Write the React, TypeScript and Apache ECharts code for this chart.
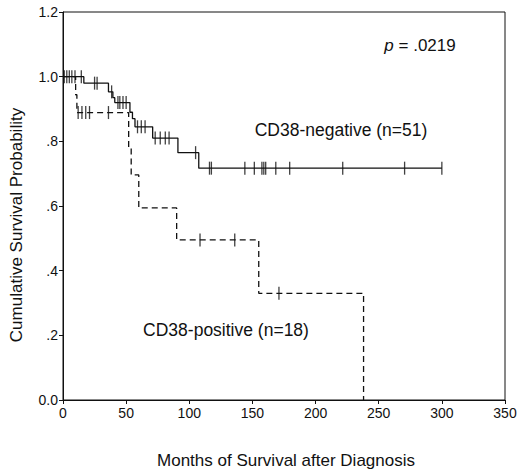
import { useEffect, useRef } from 'react';
import * as echarts from 'echarts';

// Kaplan-Meier steps: [months, survival]
const negativeSteps: [number, number][] = [
  [0, 1.0], [16.5, 0.98], [36, 0.953], [39.5, 0.935], [41, 0.92], [53, 0.89],
  [55, 0.87], [57, 0.845], [71, 0.81], [91, 0.765], [107.5, 0.717], [300, 0.717],
];
const positiveSteps: [number, number][] = [
  [0, 1.0], [10, 0.944], [11, 0.889], [52, 0.78], [54, 0.696], [60, 0.594],
  [90, 0.495], [155, 0.33], [238, 0.33], [238, 0],
];

// censored observations (months)
const negativeCensored = [
  1, 3, 5, 7, 9.5, 14.5, 25, 27, 38.5, 43.5, 45, 47.5, 50, 59, 62, 65,
  73, 77, 81, 84, 105, 116, 117.5, 144, 151.5, 157.5, 159, 160.5, 168.5,
  179.5, 221.5, 270.5, 300,
];
const positiveCensored = [12, 15, 18, 21, 36, 108.5, 136, 171];

const yTickLabels: Record<string, string> = {
  '0': '0.0', '0.2': '.2', '0.4': '.4', '0.6': '.6', '0.8': '.8', '1': '1.0', '1.2': '1.2',
};

const survivalAt = (steps: [number, number][], t: number) => {
  let s = steps[0][1];
  for (const [time, val] of steps) {
    if (time <= t) s = val;
  }
  return s;
};

const FONT = 'Liberation Sans, Arial, sans-serif';
const INK = '#111';

const App = () => {
  const chartRef = useRef<HTMLDivElement>(null);

  useEffect(() => {
    if (!chartRef.current) return;
    document.body.style.margin = '0';
    const chart = echarts.init(chartRef.current, undefined, { renderer: 'svg' });

    const censorSymbol = {
      type: 'scatter',
      symbol: 'rect',
      symbolSize: [1.3, 13],
      itemStyle: { color: INK },
      silent: true,
      z: 3,
    };

    chart.setOption({
      animation: false,
      backgroundColor: '#fff',
      textStyle: { fontFamily: FONT, color: INK },
      grid: {
        left: 63, right: 15, top: 12, bottom: 73,
        show: true, borderColor: INK, borderWidth: 1,
      },
      xAxis: {
        type: 'value',
        min: 0, max: 350, interval: 50,
        splitLine: { show: false },
        axisLine: { lineStyle: { color: INK, width: 1 } },
        axisTick: { length: 4, lineStyle: { color: INK } },
        axisLabel: { fontSize: 14, color: INK, margin: 6, fontFamily: FONT },
      },
      yAxis: {
        type: 'value',
        min: 0, max: 1.2, interval: 0.2,
        splitLine: { show: false },
        axisLine: { show: true, lineStyle: { color: INK, width: 1 } },
        axisTick: { show: true, length: 4, lineStyle: { color: INK } },
        axisLabel: {
          fontSize: 14, color: INK, margin: 5, fontFamily: FONT,
          formatter: (v: number) => yTickLabels[String(Math.round(v * 10) / 10)] ?? String(v),
        },
      },
      series: [
        {
          name: 'CD38-negative',
          type: 'line',
          step: 'end',
          data: negativeSteps,
          showSymbol: false,
          lineStyle: { color: INK, width: 1.3, type: 'solid' },
        },
        {
          name: 'CD38-positive',
          type: 'line',
          step: 'end',
          data: positiveSteps,
          showSymbol: false,
          lineStyle: { color: INK, width: 1.3, type: [6, 4] },
        },
        {
          ...censorSymbol,
          data: negativeCensored.map((t) => [t, survivalAt(negativeSteps, t)]),
        },
        {
          ...censorSymbol,
          data: positiveCensored.map((t) => [t, survivalAt(positiveSteps, t)]),
        },
      ],
      graphic: [
        {
          type: 'text', x: 420, y: 45,
          style: {
            text: '{i|p} = .0219', fontSize: 17, fontFamily: FONT, fill: INK,
            align: 'center', verticalAlign: 'middle',
            rich: { i: { fontStyle: 'italic', fontSize: 17, fontFamily: FONT, fill: INK } },
          },
        },
        {
          type: 'text', x: 341, y: 130,
          style: {
            text: 'CD38-negative (n=51)', fontSize: 17.5, fontFamily: FONT, fill: INK,
            align: 'center', verticalAlign: 'middle',
          },
        },
        {
          type: 'text', x: 226, y: 330,
          style: {
            text: 'CD38-positive (n=18)', fontSize: 17.5, fontFamily: FONT, fill: INK,
            align: 'center', verticalAlign: 'middle',
          },
        },
        {
          type: 'text', x: 16, y: 225, rotation: Math.PI / 2,
          style: {
            text: 'Cumulative Survival Probability', fontSize: 17, fontFamily: FONT, fill: INK,
            align: 'center', verticalAlign: 'middle',
          },
        },
        {
          type: 'text', x: 286, y: 460,
          style: {
            text: 'Months of Survival after Diagnosis', fontSize: 17, fontFamily: FONT, fill: INK,
            align: 'center', verticalAlign: 'middle',
          },
        },
      ],
    });

    return () => {
      chart.dispose();
    };
  }, []);

  return <div ref={chartRef} style={{ width: 520, height: 473 }} />;
};

export default App;
